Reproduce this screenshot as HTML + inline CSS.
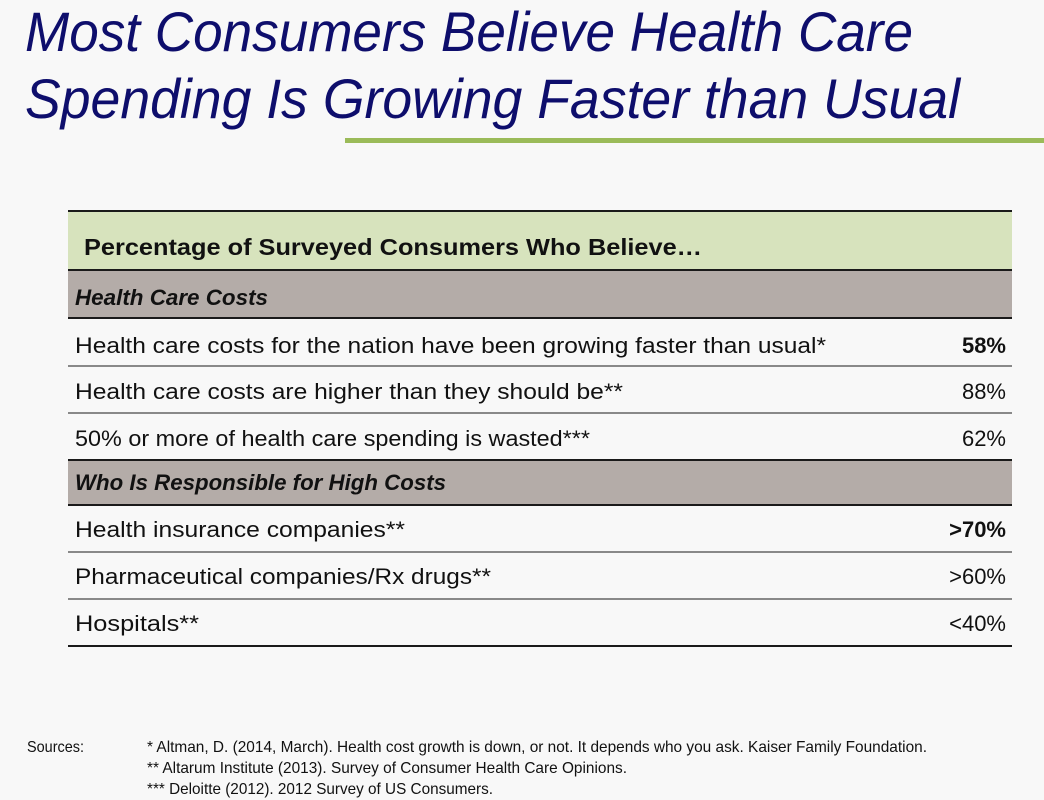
<!DOCTYPE html>
<html><head><meta charset="utf-8"><style>
html,body{margin:0;padding:0;background:#f8f8f8}
svg{display:block;font-family:"Liberation Sans",sans-serif}
</style></head><body>
<svg width="1044" height="800" viewBox="0 0 1044 800">
<rect width="1044" height="800" fill="#f8f8f8"/>
<g fill="#0e0e6c" font-style="italic" font-size="56">
<text x="25" y="51" textLength="888" lengthAdjust="spacingAndGlyphs">Most Consumers Believe Health Care</text>
<text x="25" y="118" textLength="935" lengthAdjust="spacingAndGlyphs">Spending Is Growing Faster than Usual</text>
</g>
<rect x="345" y="138" width="699" height="5" fill="#9bbb59"/>
<g>
<rect x="68" y="211" width="944" height="59" fill="#d7e3bd"/>
<text x="84" y="255" font-size="23" font-weight="bold" fill="#111" textLength="618" lengthAdjust="spacingAndGlyphs">Percentage of Surveyed Consumers Who Believe…</text>
<rect x="68" y="270" width="944" height="48" fill="#b4aca8"/>
<text x="75" y="305" font-size="22" font-weight="bold" font-style="italic" fill="#111" textLength="193" lengthAdjust="spacingAndGlyphs">Health Care Costs</text>
<rect x="68" y="460" width="944" height="45" fill="#b4aca8"/>
<text x="75" y="490" font-size="22" font-weight="bold" font-style="italic" fill="#111" textLength="371" lengthAdjust="spacingAndGlyphs">Who Is Responsible for High Costs</text>
<g font-size="22" fill="#111">
<text x="75" y="353" textLength="751" lengthAdjust="spacingAndGlyphs">Health care costs for the nation have been growing faster than usual*</text>
<text x="1006" y="353" text-anchor="end" font-weight="bold">58%</text>
<text x="75" y="399" textLength="548" lengthAdjust="spacingAndGlyphs">Health care costs are higher than they should be**</text>
<text x="1006" y="399" text-anchor="end">88%</text>
<text x="75" y="446" textLength="515" lengthAdjust="spacingAndGlyphs">50% or more of health care spending is wasted***</text>
<text x="1006" y="446" text-anchor="end">62%</text>
<text x="75" y="537" textLength="330" lengthAdjust="spacingAndGlyphs">Health insurance companies**</text>
<text x="1006" y="537" text-anchor="end" font-weight="bold">&gt;70%</text>
<text x="75" y="584" textLength="416" lengthAdjust="spacingAndGlyphs">Pharmaceutical companies/Rx drugs**</text>
<text x="1006" y="584" text-anchor="end">&gt;60%</text>
<text x="75" y="631" textLength="124" lengthAdjust="spacingAndGlyphs">Hospitals**</text>
<text x="1006" y="631" text-anchor="end">&lt;40%</text>
</g>
<g stroke="#1a1a1a">
<line x1="68" x2="1012" y1="211" y2="211" stroke-width="2"/>
<line x1="68" x2="1012" y1="270" y2="270" stroke-width="2"/>
<line x1="68" x2="1012" y1="318" y2="318" stroke-width="2"/>
<line x1="68" x2="1012" y1="366" y2="366" stroke-width="1"/>
<line x1="68" x2="1012" y1="413" y2="413" stroke-width="1"/>
<line x1="68" x2="1012" y1="460" y2="460" stroke-width="2"/>
<line x1="68" x2="1012" y1="505" y2="505" stroke-width="2"/>
<line x1="68" x2="1012" y1="552" y2="552" stroke-width="1"/>
<line x1="68" x2="1012" y1="599" y2="599" stroke-width="1"/>
<line x1="68" x2="1012" y1="646" y2="646" stroke-width="2"/>
</g>
</g>
<g font-size="16" fill="#111">
<text x="27" y="752" textLength="57" lengthAdjust="spacingAndGlyphs">Sources:</text>
<text x="147" y="752" textLength="780" lengthAdjust="spacingAndGlyphs">* Altman, D. (2014, March). Health cost growth is down, or not. It depends who you ask. Kaiser  Family Foundation.</text>
<text x="147" y="773" textLength="480" lengthAdjust="spacingAndGlyphs">** Altarum Institute (2013). Survey of Consumer Health Care Opinions.</text>
<text x="147" y="794" textLength="346" lengthAdjust="spacingAndGlyphs">*** Deloitte (2012). 2012 Survey of US Consumers.</text>
</g>
</svg>
</body></html>
